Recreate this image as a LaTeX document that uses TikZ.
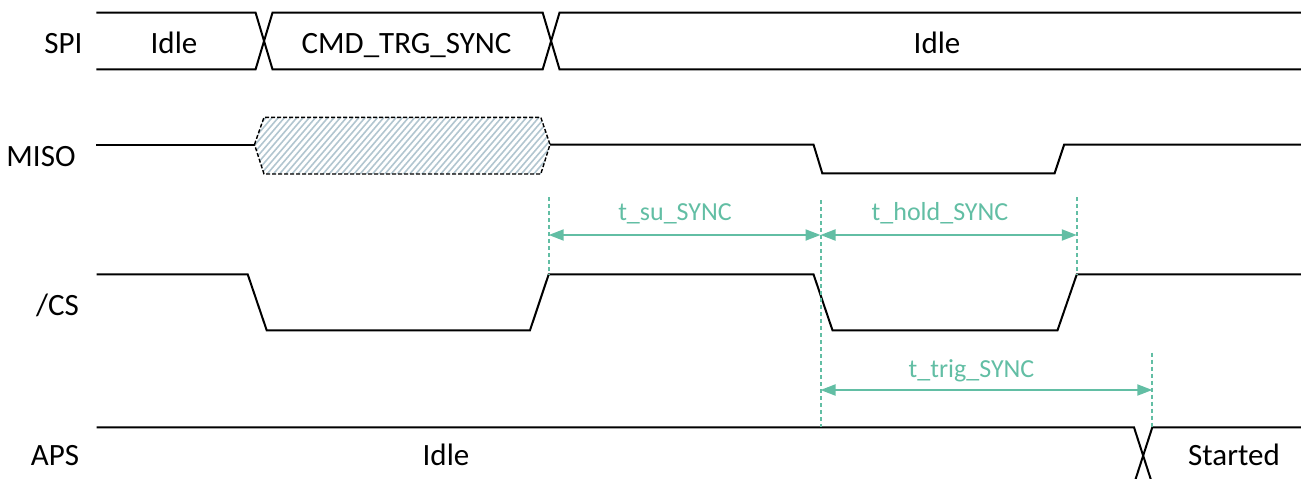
\documentclass[tikz,border=0pt]{standalone}
\usepackage{fontspec}
\setmainfont{Carlito}
\usetikzlibrary{arrows.meta}
\definecolor{teal1}{RGB}{98,190,164}
\definecolor{hatchc}{RGB}{178,198,208}
\begin{document}
\begin{tikzpicture}[x=1pt,y=-1pt,
  sig/.style={line width=2pt, line join=miter},
  lbl/.style={font=\fontsize{31}{36}\selectfont, inner sep=0, anchor=base},
  tlbl/.style={font=\fontsize{26}{30}\selectfont, text=teal1, inner sep=0, anchor=base},
  dim/.style={teal1, line width=2pt, {Triangle[length=15pt,width=11pt]}-{Triangle[length=15pt,width=11pt]}},
  guide/.style={teal1, line width=2pt, dash pattern=on 4pt off 3pt},
  hexdash/.style={line width=1.4pt, dash pattern=on 4pt off 2pt}]
\useasboundingbox (0,0) rectangle (1301,479);

% signal names
\node[lbl] (nspi) at (63.5,53.3) {SPI};
\node[lbl] (nmiso) at (41,166.5) {MISO};
\node[lbl] (ncs) at (57.5,315) {/CS};
\node[lbl] (naps) at (55,465) {APS};

% SPI bus
\draw[sig] (96.4,12.7) -- (255.6,12.7) -- (272.5,69.3) -- (542.7,69.3) -- (559.5,12.7) -- (1301,12.7);
\draw[sig] (96.4,69.3) -- (255.6,69.3) -- (272.5,12.7) -- (542.7,12.7) -- (559.5,69.3) -- (1301,69.3);
\node[lbl] (spiidle1) at (174,53.3) {Idle};
\node[lbl] (spicmd) at (406.6,53.3) {CMD\_TRG\_SYNC};
\node[lbl] (spiidle2) at (937,53.3) {Idle};

% MISO
\draw[sig] (96.4,144.5) -- (254.5,144.5);
\begin{scope}
  \clip (254.5,144.5) -- (264,117.3) -- (540.8,117.3) -- (550,144.5) -- (540.8,174) -- (264,174) -- cycle;
  \foreach \i in {0,...,58} {
    \draw[hatchc, line width=1.6pt] ({200+\i*6.2},180) -- ++(60,-70);
  }
\end{scope}
\draw[hexdash] (254.5,144.5) -- (264,117.3) -- (540.8,117.3) -- (550,144.5) -- (540.8,174) -- (264,174) -- cycle;
\draw[sig] (550,144.5) -- (813.5,144.5) -- (822.3,173.3) -- (1054.6,173.3) -- (1064.2,144.5) -- (1301,144.5);

% /CS
\draw[sig] (96.7,274.3) -- (247.7,274.3) -- (266.7,330.3) -- (530,330.3) -- (548.7,274.3) -- (813.5,274.3) -- (832.5,330.3) -- (1057.5,330.3) -- (1076.8,274.3) -- (1301,274.3);

% APS
\draw[sig] (96.7,427.3) -- (1134,427.3) -- (1152.3,484);
\draw[sig] (1134,484) -- (1152.3,427.3) -- (1301,427.3);
\node[lbl] (apsidle) at (446,465) {Idle};
\node[lbl] (apsstart) at (1234,465) {Started};

% timing guides
\coordinate (g1t) at (548.7,197);
\coordinate (g1b) at (548.7,274.3);
\coordinate (g2t) at (820.5,200);
\coordinate (g2b) at (820.5,427.3);
\coordinate (g3t) at (1076.8,197);
\coordinate (g3b) at (1076.8,274.3);
\coordinate (g4t) at (1152.3,352.7);
\coordinate (g4b) at (1152.3,427.3);
\draw[guide] (g1t) -- (g1b);
\draw[guide] (g2t) -- (g2b);
\draw[guide] (g3t) -- (g3b);
\draw[guide] (g4t) -- (g4b);

\coordinate (a1l) at (548.7,235);
\coordinate (a1r) at (820.5,235);
\coordinate (a2r) at (1076.8,235);
\coordinate (a3l) at (820.5,390);
\coordinate (a3r) at (1152.3,390);
\draw[dim] (a1l) -- (a1r);
\draw[dim] (a1r) -- (a2r);
\draw[dim] (a3l) -- (a3r);
\node[tlbl] (tsu) at (675,220.7) {t\_su\_SYNC};
\node[tlbl] (thold) at (940,220.7) {t\_hold\_SYNC};
\node[tlbl] (ttrig) at (971.5,377) {t\_trig\_SYNC};
\end{tikzpicture}
\end{document}
